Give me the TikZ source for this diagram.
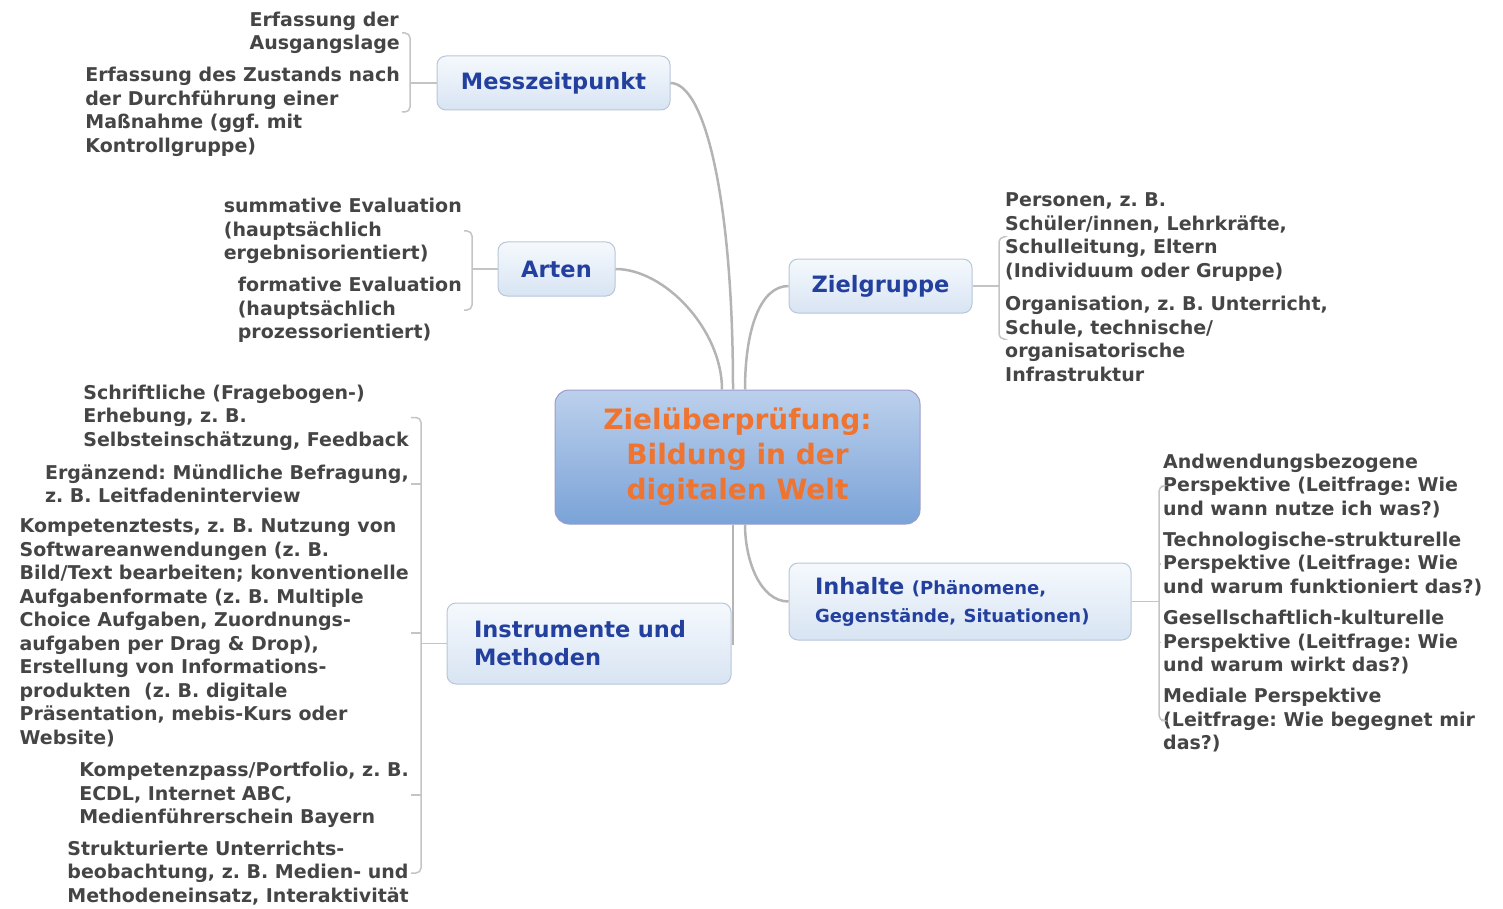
\documentclass[tikz,border=0pt]{standalone}
\usepackage{fontspec}
\setmainfont{DejaVu Sans}
\usetikzlibrary{calc}
\definecolor{leafgray}{HTML}{454545}
\definecolor{topicblue}{HTML}{24409E}
\definecolor{centerorange}{HTML}{EE7430}
\definecolor{linegray}{HTML}{B4B4B4}
\definecolor{brkgray}{HTML}{C4C4C4}
\tikzset{
	central/.style={rounded corners=14pt, draw=blue!30!gray!60, line width=1pt,
		top color={rgb,255:red,188;green,208;blue,236}, bottom color={rgb,255:red,122;green,163;blue,216},
		minimum width=365, minimum height=134, align=center, text=centerorange,
		font=\bfseries\fontsize{28}{35}\selectfont},
	topic/.style={rounded corners=9pt, draw={rgb,255:red,184;green,198;blue,216}, line width=1pt,
		top color={rgb,255:red,245;green,249;blue,253}, bottom color={rgb,255:red,216;green,228;blue,243},
		text=topicblue, font=\bfseries\fontsize{22.5}{28}\selectfont},
	leaf/.style={align=left, inner sep=2pt, yshift=-2.5pt, text=leafgray, font=\frenchspacing\bfseries\fontsize{19}{23.5}\selectfont},
	conn/.style={draw=linegray, line width=2.5pt},
	brk/.style={draw=brkgray, line width=1.5pt, rounded corners=5pt},
}

\begin{document}
\begin{tikzpicture}[x=1pt,y=-1pt]
	\useasboundingbox (0,0) rectangle (1503,909);
	% center and main topics
	\node[central] (zc) at (737.5,457) {Zielüberprüfung:\\Bildung in der\\digitalen Welt};
	\node[topic,minimum width=233,minimum height=54] (mz) at (553.5,83) {Messzeitpunkt};
	\node[topic,minimum width=117,minimum height=54] (ar) at (556.5,269) {Arten};
	\node[topic,minimum width=183,minimum height=54] (zg) at (880.5,286) {Zielgruppe};
	\node[topic,minimum width=284,minimum height=81,text width=230,align=left] (im) at (589,643.5) {Instrumente und\\Methoden};
	\node[topic,minimum width=342,minimum height=77,text width=290,align=left] (ih) at (960,601.5) {Inhalte {\fontsize{18}{24}\selectfont(Phänomene,}\\{\fontsize{18}{24}\selectfont Gegenstände, Situationen)}};
	\draw[conn] (mz.east) .. controls (705,83) and (733,200) .. ([xshift=-4.5pt]zc.north);
	\draw[conn] (ar.east) .. controls (665,269) and (722,330) .. ([xshift=-15.5pt]zc.north);
	\draw[conn] (zg.west) .. controls (760,286) and (745,330) .. ([xshift=7.5pt]zc.north);
	\draw[conn] (ih.west) .. controls (760,601.5) and (745,560) .. ([xshift=7.5pt]zc.south);
	\draw[conn] ([xshift=-4.5pt]zc.south) |- (im.east);
	% Messzeitpunkt
	\node[leaf,anchor=east] (m1) at (402,30.5) {Erfassung der\\Ausgangslage};
	\node[leaf,anchor=east] (m2) at (402,109.5) {Erfassung des Zustands nach\\der Durchführung einer\\Maßnahme (ggf. mit\\Kontrollgruppe)};
	\coordinate (mb) at (410,83);
	\draw[brk] (mz.west) -- (mb);
	\draw[brk] (m1.east) -| (mb) |- (m2.east);
	% Arten
	\node[leaf,anchor=east] (a1) at (464,228.5) {summative Evaluation\\(hauptsächlich\\ergebnisorientiert)};
	\node[leaf,anchor=east] (a2) at (464,307.5) {formative Evaluation\\(hauptsächlich\\prozessorientiert)};
	\coordinate (ab) at (472,269);
	\draw[brk] (ar.west) -- (ab);
	\draw[brk] (a1.east) -| (ab) |- (a2.east);
	% Zielgruppe
	\node[leaf,anchor=west] (z1) at (1003,234.5) {Personen, z. B.\\Schüler/innen, Lehrkräfte,\\Schulleitung, Eltern\\(Individuum oder Gruppe)};
	\node[leaf,anchor=west] (z2) at (1003,336.5) {Organisation, z. B. Unterricht,\\Schule, technische/\\organisatorische\\Infrastruktur};
	\coordinate (zb) at (999,286);
	\draw[brk] (zg.east) -- (zb);
	\draw[brk] (z1.west) -| (zb) |- (z2.west);
	% Inhalte
	\node[leaf,anchor=west] (h1) at (1161,483.5) {Andwendungsbezogene\\Perspektive (Leitfrage: Wie\\und wann nutze ich was?)};
	\node[leaf,anchor=west] (h2) at (1161,561.5) {Technologische-strukturelle\\Perspektive (Leitfrage: Wie\\und warum funktioniert das?)};
	\node[leaf,anchor=west] (h3) at (1161,640) {Gesellschaftlich-kulturelle\\Perspektive (Leitfrage: Wie\\und warum wirkt das?)};
	\node[leaf,anchor=west] (h4) at (1161,718) {Mediale Perspektive\\(Leitfrage: Wie begegnet mir\\das?)};
	\coordinate (hb) at (1159,601.5);
	\draw[brk] (ih.east) -- (hb);
	\draw[brk] (h1.west) -| (hb) |- (h4.west);
	\draw[brk] (h2.west) -- (h2.west -| hb);
	\draw[brk] (h3.west) -- (h3.west -| hb);
	% Instrumente und Methoden
	\node[leaf,anchor=east] (i1) at (411,415) {Schriftliche (Fragebogen-)\\Erhebung, z. B.\\Selbsteinschätzung, Feedback};
	\node[leaf,anchor=east] (i2) at (411,481.5) {Ergänzend: Mündliche Befragung,\\z. B. Leitfadeninterview};
	\node[leaf,anchor=east] (i3) at (411,630.5) {Kompetenztests, z. B. Nutzung von\\Softwareanwendungen (z. B.\\Bild/Text bearbeiten; konventionelle\\Aufgabenformate (z. B. Multiple\\Choice Aufgaben, Zuordnungs-\\aufgaben per Drag \& Drop),\\Erstellung von Informations-\\produkten~ (z. B. digitale\\Präsentation, mebis-Kurs oder\\Website)};
	\node[leaf,anchor=east] (i4) at (411,792.5) {Kompetenzpass/Portfolio, z. B.\\ECDL, Internet ABC,\\Medienführerschein Bayern};
	\node[leaf,anchor=east] (i5) at (411,870.5) {Strukturierte Unterrichts-\\beobachtung, z. B. Medien- und\\Methodeneinsatz, Interaktivität};
	\coordinate (ib) at (421,643.5);
	\draw[brk] (im.west) -- (ib);
	\draw[brk] (i1.east) -| (ib) |- (i5.east);
	\foreach \n in {i2,i3,i4}
		\draw[brk] (\n.east) -- (\n.east -| ib);
\end{tikzpicture}
\end{document}
